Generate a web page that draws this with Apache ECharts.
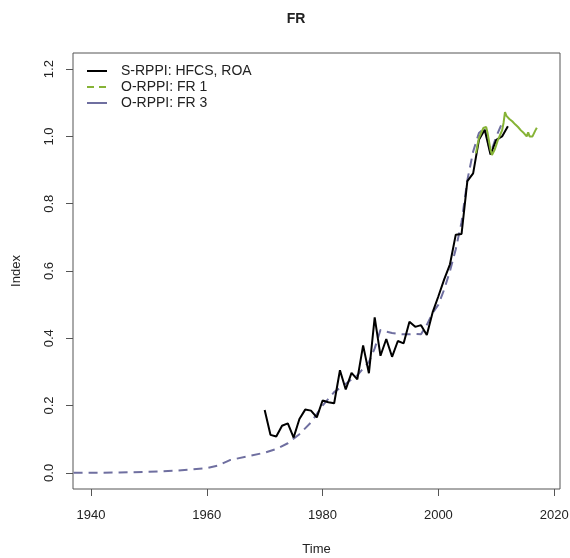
<!DOCTYPE html>
<html>
<head>
<meta charset="utf-8">
<script src="https://cdn.jsdelivr.net/npm/echarts@6/dist/echarts.min.js"></script>
<style>
html,body{margin:0;padding:0;background:#fff;}
#chart{width:570px;height:558px;}
</style>
</head>
<body>
<div id="chart"></div>
<script>
const titleText = "FR";
const xTicks = [1940, 1960, 1980, 2000, 2020];
const yTicks = [0, 0.2, 0.4, 0.6, 0.8, 1.0, 1.2];
const seriesNames = ["S-RPPI: HFCS, ROA", "O-RPPI: FR 1", "O-RPPI: FR 3"];

const hfcsYears = [1970,1971,1972,1973,1974,1975,1976,1977,1978,1979,1980,1981,1982,1983,1984,1985,1986,1987,1988,1989,1990,1991,1992,1993,1994,1995,1996,1997,1998,1999,2000,2001,2002,2003,2004,2005,2006,2007,2008,2009,2010,2011,2012];
const hfcsValues = [0.187,0.113,0.108,0.140,0.147,0.105,0.160,0.188,0.185,0.165,0.215,0.210,0.207,0.305,0.248,0.297,0.278,0.379,0.296,0.462,0.348,0.398,0.345,0.392,0.385,0.449,0.434,0.439,0.410,0.477,0.525,0.575,0.620,0.708,0.710,0.867,0.890,0.990,1.020,0.946,0.990,1.000,1.030];

const fr1Years = [2006.5,2006.75,2007,2007.25,2007.5,2007.75,2008,2008.25,2008.5,2008.75,2009,2009.25,2009.5,2009.75,2010,2010.25,2010.5,2010.75,2011,2011.25,2011.5,2011.75,2012,2012.25,2012.5,2012.75,2013,2013.25,2013.5,2013.75,2014,2014.25,2014.5,2014.75,2015,2015.25,2015.5,2015.75,2016,2016.25,2016.5,2016.75,2017];
const fr1Values = [0.950,0.975,0.995,1.005,1.015,1.025,1.030,1.028,1.010,0.985,0.960,0.945,0.950,0.962,0.975,0.988,0.998,1.008,1.018,1.040,1.072,1.061,1.063,1.052,1.056,1.045,1.048,1.036,1.040,1.028,1.031,1.018,1.022,1.010,1.006,1.000,1.012,1.000,1.003,1.000,1.004,1.018,1.026];

const fr3Years = [1937,1945,1950,1955,1960,1962,1964,1967,1970,1972,1974,1976,1978,1980,1982,1984,1986,1988,1989,1990,1991,1992,1993,1994,1995,1996,1997,1998,1999,2000,2001,2002,2003,2004,2005,2006,2007,2008,2009,2010,2011];
const fr3Values = [0.000,0.001,0.003,0.007,0.014,0.022,0.038,0.049,0.060,0.071,0.088,0.115,0.150,0.200,0.240,0.265,0.290,0.330,0.370,0.425,0.420,0.416,0.413,0.412,0.412,0.413,0.412,0.440,0.475,0.500,0.545,0.600,0.665,0.745,0.870,0.955,1.010,1.025,0.950,1.000,1.040];

const colors = ["#000000", "#86b336", "#6f6fa0"];

function pairs(xs, ys){ return xs.map((x,i)=>[x, ys[i]]); }

const chart = echarts.init(document.getElementById('chart'), null, {renderer:'canvas'});
const textColor = '#222';
const fontFam = '"Liberation Sans", Arial, sans-serif';
const legendTop = 71, legendStep = 16;
const legendGraphics = [];
const legendDash = ['solid', [7,5], 'solid'];
seriesNames.forEach((n,i)=>{
  legendGraphics.push({type:'line', shape:{x1:87,y1:legendTop+i*legendStep,x2:107,y2:legendTop+i*legendStep},
    style:{stroke:colors[i], lineWidth:2, lineDash: legendDash[i]==='solid'?null:legendDash[i]}});
  legendGraphics.push({type:'text', x:121, y:legendTop+i*legendStep,
    style:{text:n, fill:textColor, font:'14px ' + fontFam, textVerticalAlign:'middle', verticalAlign:'middle'}});
});

const option = {
  backgroundColor:'#fff',
  animation:false,
  title:{text:titleText, left:291, top:7, textAlign:'center',
    textStyle:{fontFamily:fontFam, fontWeight:'bold', fontSize:14, color:textColor}},
  grid:{left:73, right:10, top:53, bottom:69, show:true, borderColor:'#555', borderWidth:1,
    backgroundColor:'transparent', outerBoundsMode:'none', containLabel:false},
  xAxis:{type:'value', min:1936.9, max:2021,
    name:'Time', nameLocation:'middle', nameGap:54,
    nameTextStyle:{fontFamily:fontFam, fontSize:13, color:textColor},
    axisLine:{show:false, onZero:false},
    axisTick:{show:true, inside:false, length:7, lineStyle:{color:'#555'}, customValues:xTicks},
    axisLabel:{customValues:xTicks, margin:20, formatter:v=>String(Math.round(v)), fontFamily:fontFam, fontSize:13, color:textColor},
    splitLine:{show:false}},
  yAxis:{type:'value', min:-0.048, max:1.248,
    name:'Index', nameLocation:'middle', nameGap:50, nameRotate:90,
    nameTextStyle:{fontFamily:fontFam, fontSize:13, color:textColor},
    axisLine:{show:false, onZero:false},
    axisTick:{show:true, inside:false, length:7, lineStyle:{color:'#555'}, customValues:yTicks},
    axisLabel:{customValues:yTicks, rotate:90, margin:17, formatter:v=>v.toFixed(1), fontFamily:fontFam, fontSize:13, color:textColor},
    splitLine:{show:false}},
  series:[
    {name:seriesNames[2], type:'line', data:pairs(fr3Years, fr3Values), showSymbol:false, z:2,
      lineStyle:{color:colors[2], width:2, type:[9,6]}},
    {name:seriesNames[0], type:'line', data:pairs(hfcsYears, hfcsValues), showSymbol:false, z:3,
      lineStyle:{color:colors[0], width:2}},
    {name:seriesNames[1], type:'line', data:pairs(fr1Years, fr1Values), showSymbol:false, z:4,
      lineStyle:{color:colors[1], width:2}}
  ],
  graphic: legendGraphics
};
chart.setOption(option);
</script>
</body>
</html>
